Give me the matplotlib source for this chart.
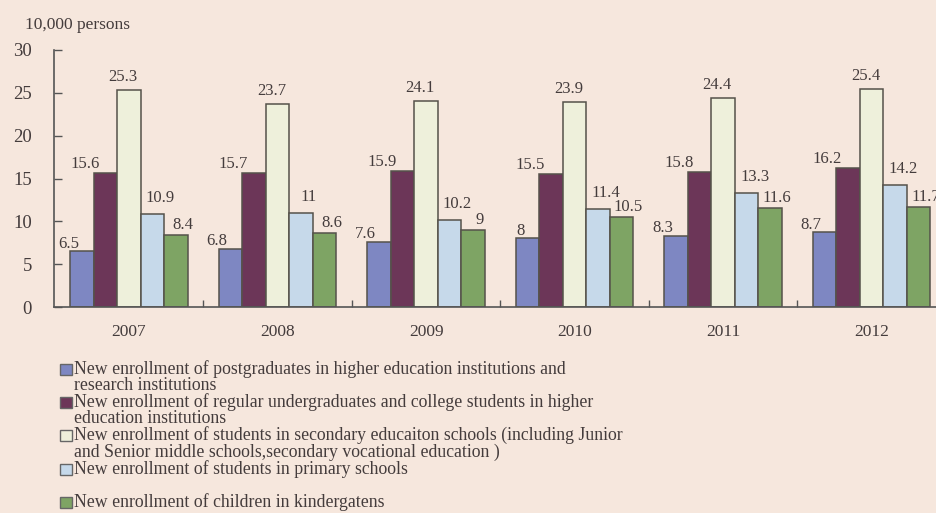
import numpy as np
from matplotlib import pyplot as plt
from matplotlib.patches import Rectangle

years = ['2007', '2008', '2009', '2010', '2011', '2012']
postgrad = [6.5, 6.8, 7.6, 8, 8.3, 8.7]
undergrad = [15.6, 15.7, 15.9, 15.5, 15.8, 16.2]
secondary = [25.3, 23.7, 24.1, 23.9, 24.4, 25.4]
primary = [10.9, 11, 10.2, 11.4, 13.3, 14.2]
kindergarten = [8.4, 8.6, 9, 10.5, 11.6, 11.7]
value_text = [
    ['6.5', '6.8', '7.6', '8', '8.3', '8.7'],
    ['15.6', '15.7', '15.9', '15.5', '15.8', '16.2'],
    ['25.3', '23.7', '24.1', '23.9', '24.4', '25.4'],
    ['10.9', '11', '10.2', '11.4', '13.3', '14.2'],
    ['8.4', '8.6', '9', '10.5', '11.6', '11.7'],
]
labels = [
    'New enrollment of postgraduates in higher education institutions and\nresearch institutions',
    'New enrollment of regular undergraduates and college students in higher\neducation institutions',
    'New enrollment of students in secondary educaiton schools (including Junior\nand Senior middle schools,secondary vocational education )',
    'New enrollment of students in primary schools\n',
    'New enrollment of children in kindergatens',
]
series = [postgrad, undergrad, secondary, primary, kindergarten]
colors = ['#7e87c2', '#6c3658', '#eef0db', '#c6d9ea', '#7ea464']

bg = '#f6e7dd'
txt = '#443c3c'
edge = '#55524a'
plt.rcParams['font.family'] = ['Liberation Serif', 'DejaVu Serif']

W, H = 937, 513
fig = plt.figure(figsize=(W / 100, H / 100), dpi=100, facecolor=bg)
ax = fig.add_axes([54 / W, 1 - 307 / H, 1 - 54 / W, 257 / H], facecolor=bg)

x = np.arange(len(years))
bw = 0.158
px = 0.72  # points per pixel
# (ha, dx px, baseline dy px) per series
lab_pos = [('right', -3, 3.5), ('right', -6, 5), ('center', -6, 9),
           ('center', 8, 12), ('center', 7, 6)]
for i, (vals, c) in enumerate(zip(series, colors)):
    xs = x + (i - 2) * bw
    ax.bar(xs, vals, bw, color=c, edgecolor=edge, linewidth=1.1)
    ha, dx, dy = lab_pos[i]
    for xi, v, t in zip(xs, vals, value_text[i]):
        ax.annotate(t, (xi, v), xytext=(dx * px, dy * px), textcoords='offset points',
                    ha=ha, va='baseline', fontsize=12, color=txt)

ax.set_xlim(-0.505, 5.44)
ax.set_ylim(0, 30)
ax.set_yticks(range(0, 31, 5))
ax.set_xticks(x)
ax.set_xticklabels(years)
ax.set_xticks(x[:-1] + 0.5, minor=True)
ax.tick_params(axis='y', direction='in', length=6, width=1, color='#555', pad=16,
               labelsize=13.5, labelcolor=txt)
ax.tick_params(axis='x', which='major', length=0, pad=12, labelsize=12.5, labelcolor=txt)
ax.tick_params(axis='x', which='minor', direction='in', length=5, width=1, color='#555')
for s in ['top', 'right']:
    ax.spines[s].set_visible(False)
for s in ['left', 'bottom']:
    ax.spines[s].set_color('#555')
    ax.spines[s].set_linewidth(1.2)

fig.text(25 / W, 1 - 25 / H, '10,000 persons', fontsize=12.5, color=txt, va='center', ha='left')

# legend, one text line every ~16.6 px
step = 16.6
line = 0
for lab, c in zip(labels, colors):
    yc = 369 + step * line
    fig.add_artist(Rectangle((60 / W, 1 - (yc + 6) / H), 12 / W, 11 / H,
                             transform=fig.transFigure, facecolor=c, edgecolor='#666', linewidth=1))
    for row in lab.split('\n'):
        fig.text(74 / W, 1 - (369 + step * line) / H, row, fontsize=12.8, color=txt,
                 va='center', ha='left')
        line += 1

plt.savefig('out.png', dpi=100, facecolor=bg)
